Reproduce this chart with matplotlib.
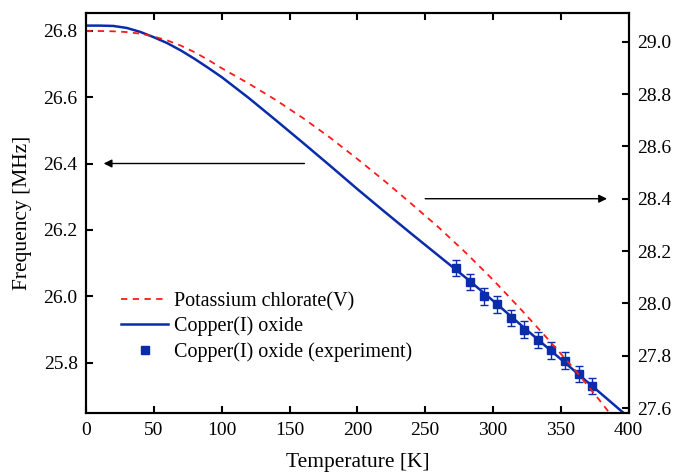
import numpy as np
import matplotlib
matplotlib.use("Agg")
import matplotlib.pyplot as plt

plt.rcParams['font.family'] = ['Liberation Serif', 'DejaVu Serif']

# Copper(I) oxide, calculated curve (left axis, MHz)
t_cu = [0, 10, 20, 30, 40, 50, 60, 70, 80, 90, 100, 120, 140, 160, 180,
        200, 220, 240, 260, 280, 300, 320, 340, 360, 380, 400]
f_cu = [26.815, 26.815, 26.814, 26.808, 26.796, 26.780, 26.762, 26.740,
        26.715, 26.688, 26.660, 26.597, 26.530, 26.462, 26.393, 26.323,
        26.255, 26.188, 26.122, 26.056, 25.987, 25.916, 25.846, 25.776,
        25.706, 25.636]

# Potassium chlorate(V), calculated curve (right axis, MHz)
t_kc = [0, 10, 20, 30, 40, 50, 60, 70, 80, 90, 100, 120, 140, 160, 180,
        200, 220, 240, 260, 280, 300, 320, 340, 360, 380, 390]
f_kc = [29.041, 29.041, 29.040, 29.037, 29.031, 29.020, 29.005, 28.985,
        28.960, 28.931, 28.899, 28.840, 28.777, 28.708, 28.633, 28.552,
        28.468, 28.380, 28.290, 28.193, 28.090, 27.980, 27.866, 27.748,
        27.620, 27.553]

# Copper(I) oxide measurements
t_exp = [273, 283, 293, 303, 313, 323, 333, 343, 353, 363, 373]
f_exp = [26.085, 26.043, 26.000, 25.976, 25.935, 25.900, 25.869, 25.838,
         25.807, 25.767, 25.730]
f_err = [0.025] * len(t_exp)

blue = '#0a2caa'
red = '#ff1a1a'

fig = plt.figure(figsize=(6.73, 4.72), dpi=100)
ax = fig.add_axes([0.1278, 0.1256, 0.8064, 0.8469])
ax2 = ax.twinx()

l_kc, = ax2.plot(t_kc, f_kc, color=red, lw=1.3, dashes=(3.5, 3.0),
                 label='Potassium chlorate(V)')
l_cu, = ax.plot(t_cu, f_cu, color=blue, lw=1.8, label='Copper(I) oxide')
ax.errorbar(t_exp, f_exp, yerr=f_err, fmt='none', ecolor=blue,
            elinewidth=1.0, capsize=3, capthick=1.0)
l_exp, = ax.plot(t_exp, f_exp, 's', color=blue, ms=5.5, mec=blue,
                 label='Copper(I) oxide (experiment)')

ax.set_xlim(0, 400)
ax.set_ylim(25.65, 26.853)
ax2.set_ylim(27.582, 29.11)

ax.set_xticks(np.arange(0, 401, 50))
ax.set_yticks([25.8, 26.0, 26.2, 26.4, 26.6, 26.8])
ax2.set_yticks([27.6, 27.8, 28.0, 28.2, 28.4, 28.6, 28.8, 29.0])
ax.yaxis.set_major_formatter(matplotlib.ticker.FormatStrFormatter('%.1f'))
ax2.yaxis.set_major_formatter(matplotlib.ticker.FormatStrFormatter('%.1f'))

for a in (ax, ax2):
    for s in a.spines.values():
        s.set_linewidth(1.5)
ax.tick_params(axis='both', direction='in', length=5, width=1.5,
               labelsize=14, pad=6, top=True, right=False)
ax.tick_params(axis='x', pad=7)
ax2.tick_params(axis='y', direction='in', length=5, width=1.5,
                labelsize=14, pad=6)

ax.set_xlabel('Temperature [K]', fontsize=15.5, labelpad=10)
ax.set_ylabel('Frequency [MHz]', fontsize=15.5, labelpad=8)

# arrows showing which axis each curve belongs to
ax.annotate('', xy=(13, 26.4), xytext=(161, 26.4),
            arrowprops=dict(arrowstyle='-|>', color='k', lw=1.0,
                            mutation_scale=12, shrinkA=0, shrinkB=0))
ax2.annotate('', xy=(384, 28.4), xytext=(250, 28.4),
             arrowprops=dict(arrowstyle='-|>', color='k', lw=1.0,
                             mutation_scale=12, shrinkA=0, shrinkB=0))

ax.legend(handles=[l_kc, l_cu, l_exp], loc='upper left',
          bbox_to_anchor=(0.0645, 0.302), frameon=False, fontsize=14.5,
          borderpad=0, handlelength=2.35, handletextpad=0.3,
          labelspacing=0.27, borderaxespad=0)

fig.savefig('out.png', dpi=100)
